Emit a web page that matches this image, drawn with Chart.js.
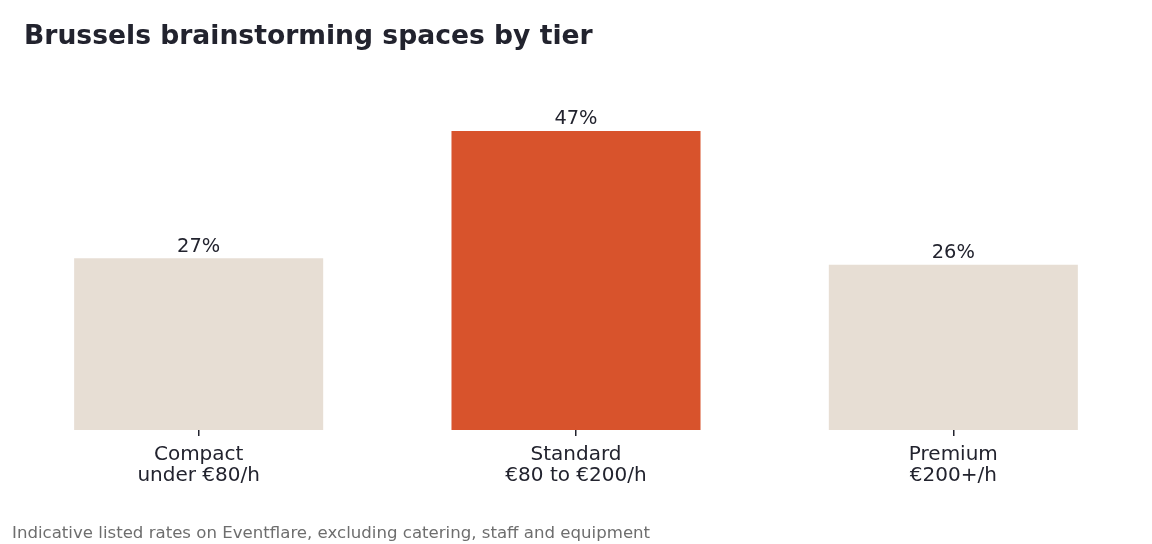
<!DOCTYPE html>
<html>
<head>
<meta charset="utf-8">
<script src="https://cdn.jsdelivr.net/npm/chart.js@4"></script>
<style>
  html, body { margin: 0; padding: 0; background: #fff; }
  #wrap { width: 1152px; height: 544px; position: relative; }
</style>
</head>
<body>
<div id="wrap"><canvas id="grafico"></canvas></div>
<script>
// datos del grafico
const tiers = [["Compact", "under €80/h"], ["Standard", "€80 to €200/h"], ["Premium", "€200+/h"]];
const shares = [27, 47, 26];
const barColors = ["#e7ded4", "#d8532c", "#e7ded4"];

const titulo = "Brussels brainstorming spaces by tier";
const nota = "Indicative listed rates on Eventflare, excluding catering, staff and equipment";
const INK = "#22232e";

// titulo, nota al pie y etiquetas de valor
const textosPlugin = {
  id: "textos",
  afterDatasetsDraw(chart) {
    const ctx = chart.ctx;
    ctx.save();
    ctx.fillStyle = INK;
    ctx.font = "19.4px 'DejaVu Sans'";
    ctx.textAlign = "center";
    ctx.textBaseline = "bottom";
    chart.getDatasetMeta(0).data.forEach((bar, i) => {
      ctx.fillText(shares[i] + "%", bar.x, bar.y - 2);
    });
    ctx.restore();
  },
  afterDraw(chart) {
    const ctx = chart.ctx;
    ctx.save();
    ctx.textAlign = "left";
    ctx.textBaseline = "middle";
    ctx.fillStyle = INK;
    ctx.font = "bold 26.6px 'DejaVu Sans'";
    ctx.fillText(titulo, 24, 37);
    ctx.fillStyle = "#6e6e6e";
    ctx.font = "16.6px 'DejaVu Sans'";
    ctx.fillText(nota, 12, 534);
    ctx.restore();
  }
};

new Chart(document.getElementById("grafico"), {
  type: "bar",
  data: {
    labels: tiers,
    datasets: [{ data: shares, backgroundColor: barColors, borderWidth: 0 }]
  },
  options: {
    responsive: true,
    maintainAspectRatio: false,
    animation: false,
    devicePixelRatio: 1,
    layout: { padding: { top: 112, left: 10, right: 10, bottom: 50 } },
    datasets: { bar: { categoryPercentage: 1, barPercentage: 0.66 } },
    plugins: { legend: { display: false }, tooltip: { enabled: false } },
    scales: {
      x: {
        grid: { display: true, drawOnChartArea: false, drawTicks: true, tickLength: 6, offset: false, color: INK, lineWidth: 1.5 },
        border: { display: false },
        ticks: { color: INK, font: { family: "DejaVu Sans", size: 20, lineHeight: 1.05 }, padding: 8 }
      },
      y: { display: false, min: 0, max: 50 }
    }
  },
  plugins: [textosPlugin]
});
</script>
</body>
</html>
